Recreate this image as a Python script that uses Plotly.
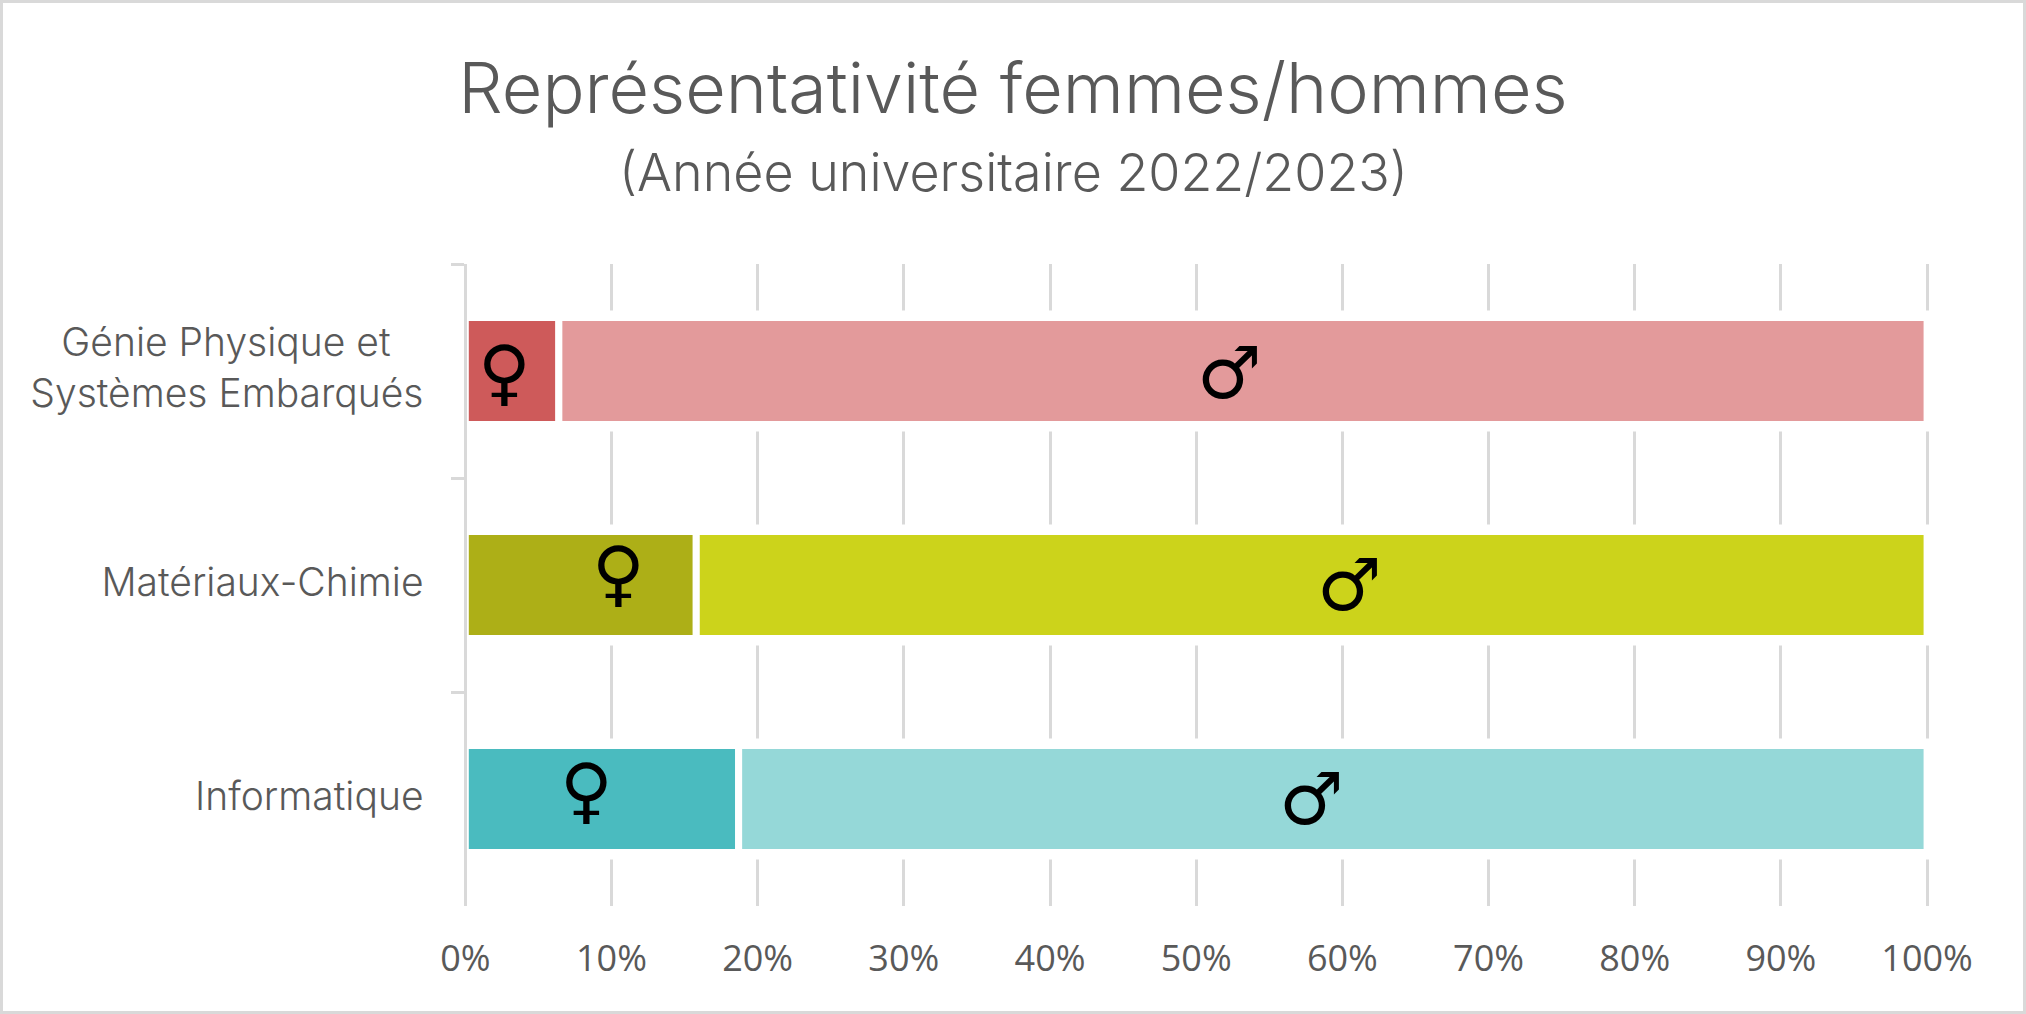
import plotly.graph_objects as go

categories = ["Génie Physique et\u00a0\u00a0\u00a0<br>Systèmes Embarqués", "Matériaux-Chimie", "Informatique"]
femmes = [6.4, 15.8, 18.7]
hommes = [93.6, 84.2, 81.3]
band = [100, 100, 100]
colors_f = ["#CE5A5A", "#ADAF17", "#4ABBBF"]
colors_h = ["#E39A9B", "#CCD31B", "#95D8D8"]
sym_f_x = [2.65, 10.5, 8.3]
sym_h_x = [52.3, 60.5, 57.9]
sym_f_y = [0.004, -0.055, -0.04]
sym_h_y = [0.01, 0.0, 0.0]
tick_vals = list(range(0, 101, 10))

W, H = 2026, 1014
ml, mr, mt, mb = 455, 96, 264, 108
pw, ph = W - ml - mr, H - mt - mb
px = lambda v: (v - ml) / pw
py = lambda v: 1 - (v - mt) / ph

UI = "Inter"
GREY = "#595959"
LINE = "#D9D9D9"

fig = go.Figure()
fig.add_bar(y=categories, x=band, base=[0, 0, 0], orientation="h", width=0.5,
            marker=dict(color="white", line=dict(color="white", width=14)), hoverinfo="skip", showlegend=False)
fig.add_bar(y=categories, x=femmes, base=[0, 0, 0], orientation="h", width=0.5, name="Femmes",
            marker=dict(color=colors_f, line=dict(color="white", width=7)), showlegend=False)
fig.add_bar(y=categories, x=hommes, base=femmes, orientation="h", width=0.5, name="Hommes",
            marker=dict(color=colors_h, line=dict(color="white", width=7)), showlegend=False)

annotations = []
for i in range(3):
    annotations.append(dict(x=sym_f_x[i], y=i + sym_f_y[i], xref="x", yref="y", text="♀", showarrow=False,
                            font=dict(family="DejaVu Sans", size=72, color="black")))
    annotations.append(dict(x=sym_h_x[i], y=i + sym_h_y[i], xref="x", yref="y", text="♂", showarrow=False,
                            font=dict(family="DejaVu Sans", size=72, color="black")))
annotations.append(dict(x=px(1013), y=py(172), xref="paper", yref="paper", xanchor="center", yanchor="middle",
                        text="(Année universitaire 2022/2023)", showarrow=False,
                        font=dict(family=UI, size=52, color=GREY, weight=300)))

fig.update_layout(
    width=W, height=H, autosize=False,
    margin=dict(l=ml, r=mr, t=mt, b=mb, pad=0),
    paper_bgcolor="white", plot_bgcolor="white",
    barmode="overlay", showlegend=False,
    title=dict(text="Représentativité femmes/hommes", x=1013 / W, xanchor="center",
               y=1 - 88 / H, yanchor="middle", font=dict(family=UI, size=70, color=GREY, weight=300)),
    xaxis=dict(domain=[px(465.3), 1], range=[0, 100.2], tickvals=tick_vals, ticktext=[f"{v}%" for v in tick_vals],
               showgrid=True, gridcolor=LINE, gridwidth=3, zeroline=False, showline=False,
               ticks="", ticklabelstandoff=28, tickfont=dict(family="Open Sans", size=36, color=GREY)),
    yaxis=dict(type="category", categoryorder="array", categoryarray=categories, range=[2.5, -0.5],
               anchor="free", position=px(465.3),
               showgrid=False, zeroline=False, showline=True, linecolor=LINE, linewidth=3,
               ticks="outside", ticklen=13, tickwidth=3, tickcolor=LINE, tickson="boundaries",
               ticklabelstandoff=33, ticklabelshift=3, tickfont=dict(family=UI, size=39, color=GREY, weight=300)),
    annotations=annotations,
    shapes=[dict(type="rect", xref="paper", yref="paper", x0=px(1.5), x1=px(W - 1.5), y0=py(1.5), y1=py(H - 1.5),
                 line=dict(color=LINE, width=3), fillcolor="rgba(0,0,0,0)", layer="below")],
)
fig.write_html("out.html", config=dict(displayModeBar=False), post_script="document.body.style.margin='0';")
